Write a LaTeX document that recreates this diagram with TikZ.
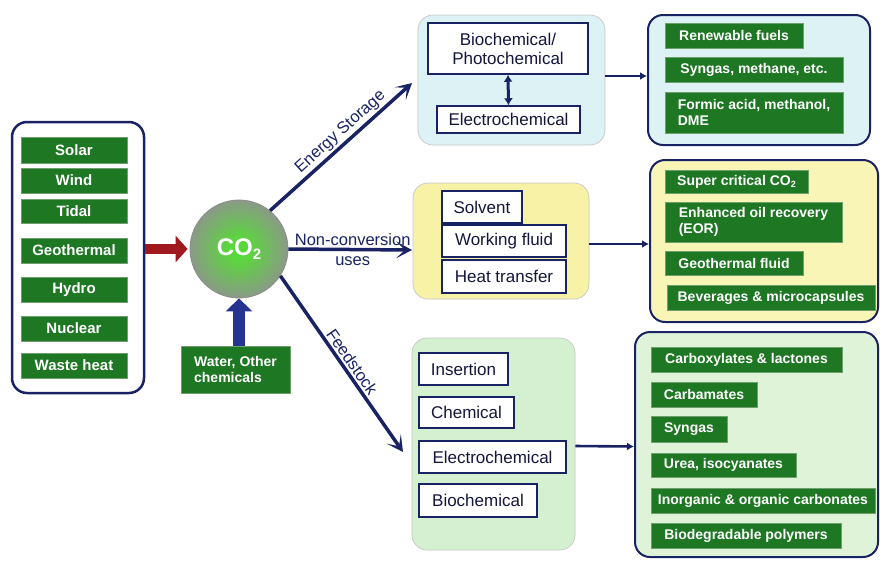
\documentclass[tikz,border=0pt]{standalone}
\usepackage{fontspec}
\setmainfont{Liberation Sans}
\usetikzlibrary{arrows.meta,calc}
\definecolor{navy}{RGB}{25,35,100}
\definecolor{ink}{RGB}{20,22,60}
\definecolor{dgreen}{RGB}{30,120,35}
\definecolor{gedge}{RGB}{110,160,110}
\definecolor{lblue}{RGB}{220,242,245}
\definecolor{myel}{RGB}{247,242,165}
\definecolor{ryel}{RGB}{249,245,182}
\definecolor{mgreen}{RGB}{213,240,208}
\definecolor{rgreen}{RGB}{222,243,216}
\definecolor{dred}{RGB}{160,25,30}
\definecolor{bblue}{RGB}{38,52,145}
\definecolor{cglow}{RGB}{90,215,60}
\definecolor{cgray}{RGB}{145,145,145}
\pgfdeclareradialshading{cotwo}{\pgfpoint{0bp}{0bp}}{color(0bp)=(cglow); color(5bp)=(cglow); color(28bp)=(cgray); color(50bp)=(cgray)}
\begin{document}
\begin{tikzpicture}[x=1pt,y=-1pt,
  gbox/.style={fill=dgreen, draw=gedge, line width=0.8pt, text=white, font=\bfseries\fontsize{14}{16.5}\selectfont, inner sep=0pt, align=center},
  gl/.style={gbox, font=\bfseries\fontsize{15}{17}\selectfont},
  wbox/.style={fill=white, draw=navy, line width=1.5pt, text=ink, font=\fontsize{17}{19}\selectfont, inner sep=0pt, align=center},
  cont/.style={rounded corners=15pt, inner sep=0pt},
  mid/.style={cont, draw=black!22, line width=0.7pt},
  rcont/.style={cont, draw=navy, line width=2pt},
  narrow/.style={draw=navy, line width=3.5pt, -{Stealth[length=16pt,width=17pt,inset=9pt]}},
  sarrow/.style={draw=navy, line width=2.6pt, -{Latex[length=7pt,width=8pt]}},
  albl/.style={text=navy, font=\fontsize{16.5}{20}\selectfont, inner sep=2pt}
]
\useasboundingbox (0,0) rectangle (880,560);
\fill[white] (0,0) rectangle (880,560);

% left sources
\node[cont, draw=navy, line width=2.5pt, fill=white, minimum width=132pt, minimum height=271pt] (src) at (78,257.5) {};
\node[gl, minimum width=106pt, minimum height=26pt] (solar) at (74,150) {Solar};
\node[gl, minimum width=106pt, minimum height=25pt] (wind) at (74,180.5) {Wind};
\node[gl, minimum width=106pt, minimum height=24pt] (tidal) at (74,211) {Tidal};
\node[gl, minimum width=106pt, minimum height=25pt] (geo) at (74,250.5) {Geothermal};
\node[gl, minimum width=106pt, minimum height=25pt] (hydro) at (74,289.5) {Hydro};
\node[gl, minimum width=106pt, minimum height=25pt] (nuc) at (74,328.5) {Nuclear};
\node[gl, minimum width=106pt, minimum height=25pt] (waste) at (74,365.5) {Waste heat};

% CO2
\node[circle, minimum size=98pt, shade, shading=cotwo, draw=black!45, line width=0.8pt, text=white, font=\bfseries\fontsize{24}{24}\selectfont, inner sep=0pt] (co2) at (239,249) {CO\raisebox{-0.35ex}{\fontsize{15}{15}\selectfont 2}};

% water
\node[gbox, align=left, minimum width=109pt, minimum height=47pt] (water) at (235.5,369.5) {Water, Other\\chemicals};

% block arrows
\draw[draw=dred, line width=10pt, shorten >=2pt, -{Triangle[length=12pt,width=26pt]}] (src.east |- co2.west) -- (co2.west);
\draw[draw=bblue, line width=12pt, -{Triangle[length=13pt,width=26pt]}] (co2 |- water.north) -- (co2.south);

% middle containers
\node[mid, fill=lblue, minimum width=187pt, minimum height=130pt] (eb) at (511.5,80) {};
\node[wbox, minimum width=160pt, minimum height=51pt] (bio) at (508,48.5) {Biochemical/\\Photochemical};
\node[wbox, minimum width=143pt, minimum height=27pt] (elec) at (508.5,119.5) {Electrochemical};
\draw[draw=navy, line width=3pt, {Latex[length=7pt,width=9pt]}-{Latex[length=7pt,width=9pt]}] (bio.south) -- (elec.north);

\node[mid, fill=myel, minimum width=176pt, minimum height=116pt] (yb) at (501,241) {};
\node[wbox, minimum width=80pt, minimum height=32pt] (solv) at (482,207) {Solvent};
\node[wbox, minimum width=124pt, minimum height=32pt] (work) at (504,241) {Working fluid};
\node[wbox, minimum width=124pt, minimum height=33pt] (heat) at (504,276.5) {Heat transfer};

\node[mid, fill=mgreen, minimum width=163pt, minimum height=212pt] (fb) at (493.5,444) {};
\node[wbox, minimum width=89pt, minimum height=32pt] (ins) at (463.5,369) {Insertion};
\node[wbox, minimum width=95pt, minimum height=31pt] (chem) at (466.5,412.5) {Chemical};
\node[wbox, minimum width=147pt, minimum height=32pt] (elec2) at (492.5,457) {Electrochemical};
\node[wbox, minimum width=118pt, minimum height=33pt] (bioc) at (478,500.5) {Biochemical};

% right containers
\node[rcont, fill=lblue, minimum width=222pt, minimum height=130pt] (rb1) at (759,80) {};
\node[gbox, minimum width=138pt, minimum height=25pt] (ren) at (734,35.5) {Renewable fuels};
\node[gbox, minimum width=178pt, minimum height=25pt] (syn1) at (754,69.5) {Syngas, methane, etc.};
\node[gbox, align=left, minimum width=178pt, minimum height=41pt] (form) at (754,112.5) {Formic acid, methanol,\\DME};

\node[rcont, fill=ryel, minimum width=228pt, minimum height=162pt] (rb2) at (764,241) {};
\node[gbox, minimum width=143pt, minimum height=23pt] (sup) at (736.5,181.5) {Super critical CO\raisebox{-0.3ex}{\fontsize{9}{9}\selectfont 2}};
\node[gbox, align=left, minimum width=177pt, minimum height=40pt] (eor) at (753.5,222) {Enhanced oil recovery\\(EOR)};
\node[gbox, minimum width=138pt, minimum height=24pt] (geof) at (734,263) {Geothermal fluid};
\node[gbox, minimum width=208pt, minimum height=25pt] (bev) at (771,297.5) {Beverages \& microcapsules};

\node[rcont, fill=rgreen, minimum width=243pt, minimum height=225pt] (rb3) at (756.5,444.5) {};
\node[gbox, minimum width=191pt, minimum height=25pt] (carbox) at (746.5,359.5) {Carboxylates \& lactones};
\node[gbox, minimum width=106pt, minimum height=25pt] (carbam) at (704,394.5) {Carbamates};
\node[gbox, minimum width=76pt, minimum height=26pt] (syn3) at (689,429) {Syngas};
\node[gbox, minimum width=145pt, minimum height=24pt] (urea) at (723.5,465) {Urea, isocyanates};
\node[gbox, minimum width=224pt, minimum height=25pt] (inorg) at (763,500.5) {Inorganic \& organic carbonates};
\node[gbox, minimum width=190pt, minimum height=25pt] (biodeg) at (746,535.5) {Biodegradable polymers};

% main arrows
\coordinate (esend) at (412,83);
\coordinate (ncend) at (412,250);
\coordinate (fsend) at (403,452);
\draw[narrow] (co2.51) -- node[albl, sloped, above, pos=0.55] {Energy Storage} (esend);
\draw[narrow] (co2.east) -- node[albl, align=center, pos=0.52] {Non-conversion\\uses} (ncend);
\draw[narrow] (co2.-33) -- node[albl, sloped, above, pos=0.52] {Feedstock} (fsend);

% connectors to results
\draw[sarrow] ([yshift=4pt]eb.east) -- ([yshift=4pt]rb1.west);
\draw[sarrow] ([yshift=-3pt]yb.east) -- ([yshift=-3pt]rb2.west);
\draw[sarrow] ([yshift=-2pt]fb.east) -- ([yshift=-2pt]rb3.west);
\end{tikzpicture}
\end{document}
